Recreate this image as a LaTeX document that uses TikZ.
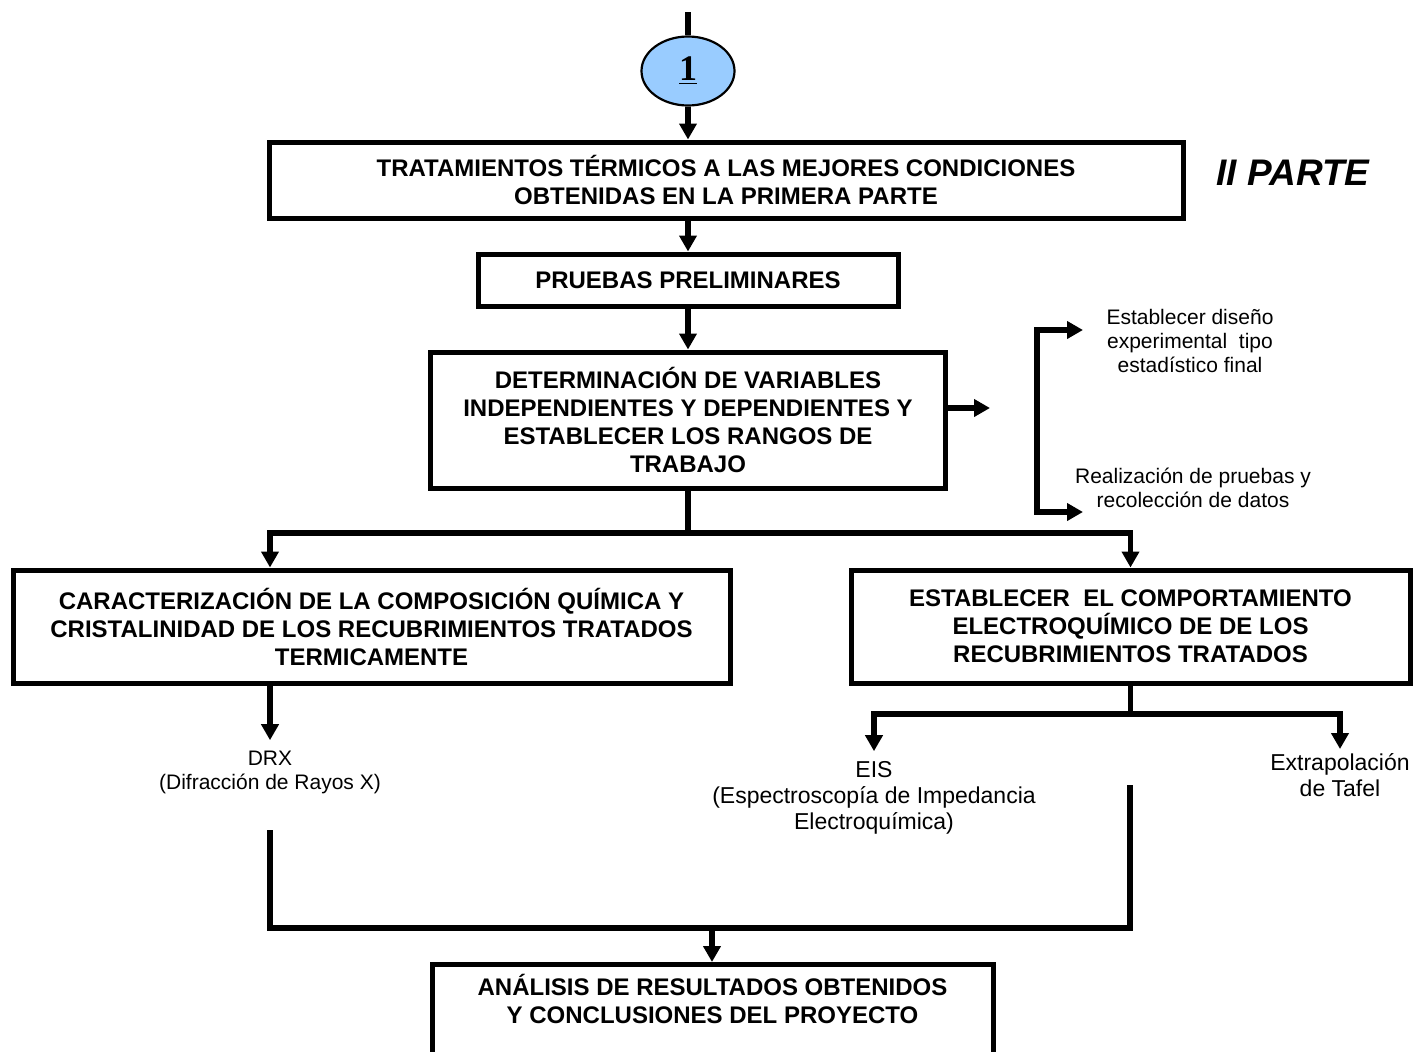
\documentclass[tikz,border=0pt]{standalone}
\usepackage{fontspec}
\setmainfont{Liberation Sans}
\newfontfamily\numfont{Liberation Serif}
\usetikzlibrary{shapes.geometric,arrows.meta}
\definecolor{nodeblue}{RGB}{153,204,255}

\begin{document}
\begin{tikzpicture}[x=0.5pt, y=-0.5pt]
  \tikzstyle{boxes}=[draw, line width=2.5pt, rectangle, align=center, inner sep=2pt, font=\fontsize{12}{14}\selectfont\bfseries]
  \tikzstyle{notes}=[align=center, inner sep=2pt, font=\fontsize{10.5}{12}\selectfont]
  \tikzstyle{bignotes}=[notes, font=\fontsize{11.5}{13}\selectfont]
  \tikzstyle{lnk}=[line width=2.6pt]
  \tikzstyle{arr}=[lnk, -{Triangle[length=8pt,width=8.5pt]}]
  \useasboundingbox (0,0) rectangle (1415,1051);
  \clip (0,0) rectangle (1415,1051);
  % Connector and main boxes
  \coordinate (start) at (688,12);
  \node[ellipse, draw, line width=1.1pt, fill=nodeblue, minimum width=46.5pt, minimum height=34.5pt, inner sep=0pt,
        font=\numfont\fontsize{18}{18}\selectfont\bfseries] (one) at (688,71) {\raisebox{-1.5pt}{\underline{1}}};
  \node[boxes, minimum width=457pt, minimum height=38pt] (trat) at (726,180)
    {TRATAMIENTOS TÉRMICOS A LAS MEJORES CONDICIONES\\ OBTENIDAS EN LA PRIMERA PARTE};
  \node[font=\fontsize{18.5}{20}\selectfont\bfseries\itshape] (parte) at (1293,173) {II PARTE};
  \node[boxes, minimum width=210pt, minimum height=26pt] (prel) at (688,280) {PRUEBAS PRELIMINARES};
  \node[boxes, minimum width=257.5pt, minimum height=68pt] (det) at (688,420)
    {DETERMINACIÓN DE VARIABLES\\ INDEPENDIENTES Y DEPENDIENTES Y\\ ESTABLECER LOS RANGOS DE\\ TRABAJO};
  \node[boxes, minimum width=358.5pt, minimum height=56.5pt] (carac) at (371.5,626.5)
    {CARACTERIZACIÓN DE LA COMPOSICIÓN QUÍMICA Y\\ CRISTALINIDAD DE LOS RECUBRIMIENTOS TRATADOS\\ TERMICAMENTE};
  \node[boxes, minimum width=279.5pt, minimum height=56.5pt] (comp) at (1130.5,626.5)
    {ESTABLECER\ \ EL COMPORTAMIENTO\\ ELECTROQUÍMICO DE DE LOS\\ RECUBRIMIENTOS TRATADOS};
  \node[boxes, minimum width=280.5pt, minimum height=53pt, anchor=north] (res) at (712.5,962)
    {ANÁLISIS DE RESULTADOS OBTENIDOS\\ Y CONCLUSIONES DEL PROYECTO\\ \strut};

  % Side notes
  \node[notes] (disen) at (1190,341) {Establecer diseño\\ experimental\ \ tipo\\ estadístico final};
  \node[notes] (realiz) at (1193,488) {Realización de pruebas y\\ recolección de datos};
  \node[notes] (drx) at (270,772) {DRX\\ (Difracción de Rayos X)};
  \node[bignotes] (eis) at (874,798) {EIS\\ (Espectroscopía de Impedancia\\ Electroquímica)};
  \node[bignotes] (tafel) at (1340,775) {Extrapolación\\ de Tafel};

  % Links
  \draw[lnk] (start) -- (one.north);
  \draw[arr] (one.south) -- (one.south |- trat.north);
  \draw[arr] (prel.north |- trat.south) -- (prel.north);
  \draw[arr] (prel.south) -- (prel.south |- det.north);
  \coordinate (detout) at (990,408);
  \draw[arr] (det.east |- detout) -- (detout);
  \coordinate (brtop) at (1083,330);
  \coordinate (brbot) at (1083,512);
  \draw[lnk, {Triangle[length=8pt,width=8.5pt]}-{Triangle[length=8pt,width=8.5pt]}] (brtop) -| (1037,512) -- (brbot);

  \coordinate (split1) at (688,533);
  \draw[lnk] (det.south) -- (split1);
  \draw[arr] (split1) -| ([xshift=-50.75pt]carac.north);
  \draw[arr] (split1) -| (comp.north);
  \draw[arr, shorten >=3pt] ([xshift=-50.75pt]carac.south) -- (drx.north);

  \coordinate (split2) at (1130.5,714);
  \draw[lnk] (comp.south) -- (split2);
  \draw[arr, shorten >=3pt] (split2) -| (eis.north);
  \draw[arr] (split2) -| (tafel.north);

  \coordinate (joinl) at (270,830);
  \coordinate (joinr) at (1130,785);
  \coordinate (merge) at (712,928);
  \draw[lnk] (joinl) |- (joinr |- merge) -- (joinr);
  \draw[arr] (merge) -- (merge |- res.north);
\end{tikzpicture}
\end{document}
